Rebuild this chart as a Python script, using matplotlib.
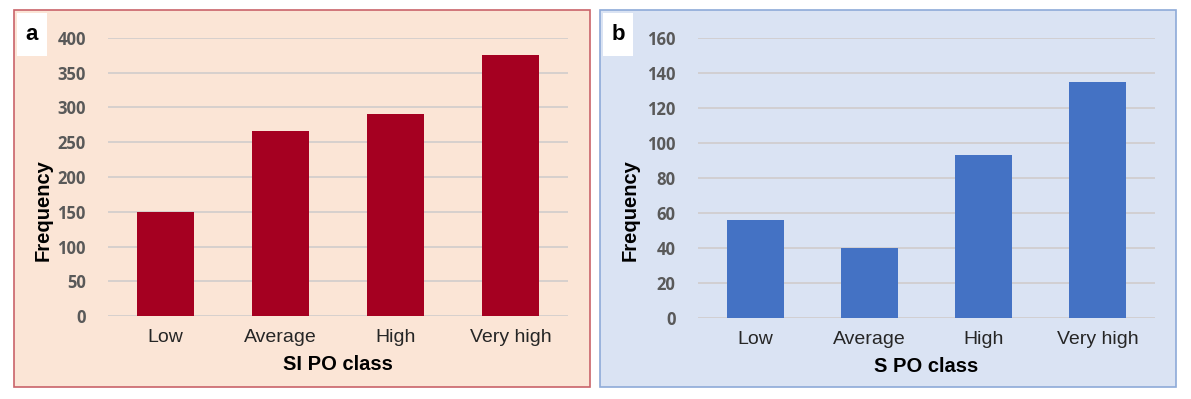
import matplotlib.pyplot as plt
from matplotlib.patches import Rectangle

# Data
categories = ["Low", "Average", "High", "Very high"]
si_po_freq = [150, 266, 291, 376]
s_po_freq = [56, 40, 93, 135]
si_ticks = [0, 50, 100, 150, 200, 250, 300, 350, 400]
s_ticks = [0, 20, 40, 60, 80, 100, 120, 140, 160]

W, H = 1191, 399
fig = plt.figure(figsize=(W / 100, H / 100), dpi=100)


def fx(px):
    return px / W


def fy(py):
    return 1 - py / H


def panel(x0, x1, y0, y1, face, edge, letter):
    # panel background and the white box holding the letter, behind the axes
    fig.patches.append(Rectangle((fx(x0), fy(y1)), fx(x1 - x0), (y1 - y0) / H,
                                 transform=fig.transFigure, facecolor=face,
                                 edgecolor=edge, linewidth=1.2, zorder=-2))
    fig.patches.append(Rectangle((fx(x0 + 3), fy(56)), fx(30), 43 / H,
                                 transform=fig.transFigure, facecolor="white",
                                 edgecolor="none", zorder=-1))
    fig.text(fx(x0 + 18), fy(35), letter, fontsize=16, fontweight="bold",
             ha="center", va="center", family="Liberation Sans")


def bar_chart(left, right, bottom, values, ticks, color, xlabel, ylabel_x):
    ax = fig.add_axes([fx(left), fy(bottom), fx(right - left), (bottom - 38) / H])
    ax.set_facecolor("none")
    x = range(len(categories))
    ax.bar(x, values, width=0.5, color=color, zorder=3)
    ax.set_xlim(-0.5, len(categories) - 0.5)
    ax.set_ylim(ticks[0], ticks[-1])
    ax.set_yticks(ticks)
    ax.set_yticklabels([str(t) for t in ticks], fontsize=12, fontweight="bold",
                       color="#595959", family="Open Sans")
    ax.set_xticks(list(x))
    ax.set_xticklabels(categories, fontsize=14, family="Liberation Sans", color="#262626")
    ax.tick_params(axis="both", length=0)
    ax.tick_params(axis="y", pad=16)
    ax.tick_params(axis="x", pad=9)
    ax.yaxis.grid(True, color="#d0cccc", linewidth=1.2, zorder=0)
    ax.set_axisbelow(True)
    for s in ax.spines.values():
        s.set_visible(False)
    ax.set_xlabel(xlabel, fontsize=14.5, fontweight="bold", family="Liberation Sans", labelpad=7)
    fig.text(fx(ylabel_x), fy(210), "Frequency", rotation=90, fontsize=14.5,
             fontweight="bold", family="Liberation Sans", ha="center", va="center")
    return ax


panel(14, 590, 10, 387, "#fbe5d6", "#c9636a", "a")
panel(600, 1176, 10, 387, "#dae3f3", "#8eaad8", "b")

bar_chart(108, 568, 316, si_po_freq, si_ticks, "#a50021", "SI PO class", 43)
bar_chart(698, 1155, 318, s_po_freq, s_ticks, "#4472c4", "S PO class", 630)

fig.savefig("out.png", dpi=100)
